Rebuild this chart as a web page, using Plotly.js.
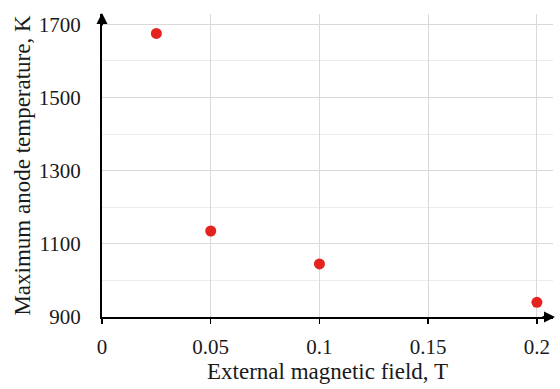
<!DOCTYPE html>
<html>
<head>
<meta charset="utf-8">
<script src="https://cdn.plot.ly/plotly-3.0.1.min.js"></script>
<style>html,body{margin:0;padding:0;background:#fff;}#chart{width:560px;height:389px;}</style>
</head>
<body>
<div id="chart"></div>
<script>
const fieldT = [0.025, 0.05, 0.1, 0.2];
const maxTempK = [1675, 1135, 1045, 940];
const xTickVals = [0, 0.05, 0.1, 0.15, 0.2];
const xTickText = ["0", "0.05", "0.1", "0.15", "0.2"];
const yTickVals = [900, 1100, 1300, 1500, 1700];
const yTickText = ["900", "1100", "1300", "1500", "1700"];

const font = "Liberation Serif";

const trace = {
  x: fieldT, y: maxTempK, type: "scatter", mode: "markers",
  marker: {color: "#e5231e", size: 11},
  cliponaxis: false, showlegend: false
};

const layout = {
  width: 560, height: 389,
  margin: {l: 102, r: 7, t: 14, b: 72},
  paper_bgcolor: "#ffffff", plot_bgcolor: "#ffffff",
  font: {family: font, size: 21, color: "#1a1a1a"},
  xaxis: {
    range: [0, 0.2074],
    tickvals: xTickVals, ticktext: xTickText,
    showgrid: true, gridcolor: "#d9d9d9", gridwidth: 1,
    zeroline: false, showline: true, linecolor: "#000", linewidth: 2,
    ticks: "outside", ticklen: 5, tickwidth: 1.5, tickcolor: "#000",
    ticklabelstandoff: 5,
    tickfont: {family: font, size: 21, color: "#1a1a1a"},
    title: {text: "External magnetic field, T", font: {family: font, size: 23, color: "#1a1a1a"}, standoff: 1}
  },
  yaxis: {
    range: [900, 1728],
    tickvals: yTickVals, ticktext: yTickText,
    showgrid: true, gridcolor: "#d9d9d9", gridwidth: 1,
    minor: {dtick: 100, tick0: 900, showgrid: true, gridcolor: "#ececec", gridwidth: 1, ticks: ""},
    zeroline: false, showline: true, linecolor: "#000", linewidth: 2,
    ticks: "", ticklabelstandoff: 15,
    tickfont: {family: font, size: 21, color: "#1a1a1a"},
    title: {text: "Maximum anode temperature, K", font: {family: font, size: 23, color: "#1a1a1a"}, standoff: 2}
  },
  annotations: [
    {xref: "paper", yref: "paper", x: 0, y: 1, ax: 0, ay: 14, axref: "pixel", ayref: "pixel",
     text: "", showarrow: true, arrowhead: 2, arrowsize: 1.1, arrowwidth: 2, arrowcolor: "#000", yshift: 1},
    {xref: "paper", yref: "paper", x: 1, y: 0, ax: -14, ay: 0, axref: "pixel", ayref: "pixel",
     text: "", showarrow: true, arrowhead: 2, arrowsize: 1.1, arrowwidth: 2, arrowcolor: "#000", xshift: 2}
  ]
};

Plotly.newPlot("chart", [trace], layout, {displayModeBar: false, staticPlot: true});
</script>
</body>
</html>
